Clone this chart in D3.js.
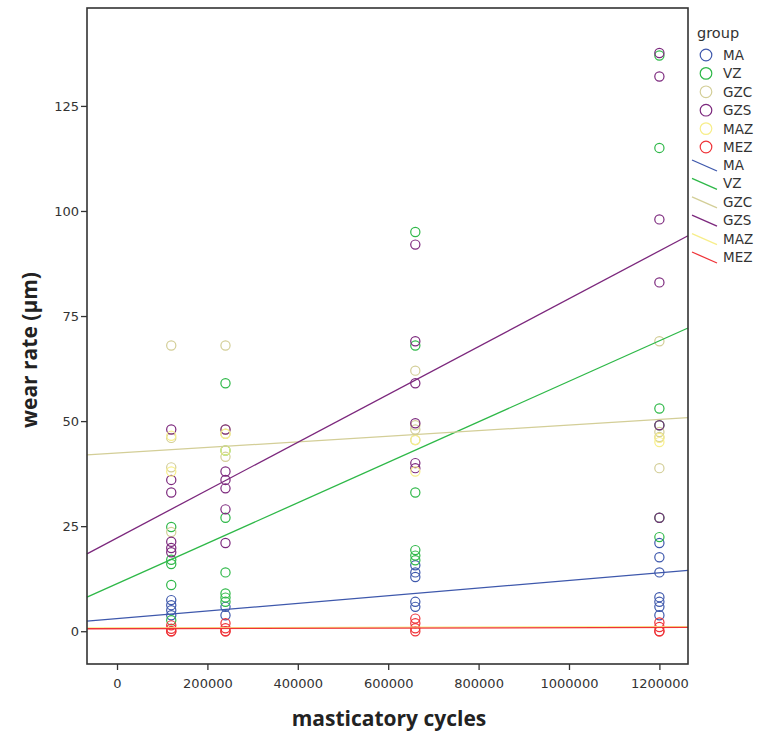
<!DOCTYPE html>
<html><head><meta charset="utf-8">
<script src="https://cdn.jsdelivr.net/npm/d3@7"></script>
<style>
html,body{margin:0;padding:0;background:#fff;}
svg{display:block;}
</style></head>
<body>
<script>
// ---- data ----
const groups = ["MA", "VZ", "GZC", "GZS", "MAZ", "MEZ"];
const groupColors = ["#3E58AC", "#2EB848", "#D3CE97", "#7C287D", "#F7EE8A", "#EF3338"];
const cycles = [120000, 240000, 660000, 1200000];
const xTicks = [0, 200000, 400000, 600000, 800000, 1000000, 1200000];
const yTicks = [0, 25, 50, 75, 100, 125];

// wear values per group, one list per cycle count
const wearMA  = [[7.4, 6.2, 5, 3.8], [5.8, 3.8], [15.7, 14, 12.9, 7, 5.8], [21, 17.6, 14, 8.1, 7, 5.8, 3.8]];
const wearVZ  = [[24.8, 17, 16, 11, 2.6], [59, 43, 27, 14, 9, 8, 7], [95, 68, 33, 19.3, 18, 16.9], [137, 115, 53, 49, 27, 22.4]];
const wearGZC = [[68, 46, 39, 23.6], [68, 48, 41.5, 47], [62, 49, 48, 45.5], [69, 47.4, 46.2, 38.8]];
const wearGZS = [[48, 36, 33, 21.3, 19.8, 18.8], [48, 38, 36, 34, 29, 21], [92, 69, 59, 49.5, 40, 38.8], [137.6, 132, 98, 83, 49, 27]];
const wearMAZ = [[46.5, 38], [47, 43], [45.5, 38], [46, 45]];
const wearMEZ = [[1.4, 0.6, 0, 0], [1.9, 0.7, 0, 0], [3, 1.9, 0.7, 0], [2.1, 1, 0, 0]];
const wearByGroup = [wearMA, wearVZ, wearGZC, wearGZS, wearMAZ, wearMEZ];

// fitted line values at 0 cycles and at 1,200,000 cycles
const fitAtZero = [3.0, 11.3, 42.4, 22.2, 0.8, 0.6];
const fitAtMax  = [13.9, 69.1, 50.4, 90.5, 1.1, 0.9];

// ---- layout ----
const W = 763, H = 740;
const plot = {left: 87, top: 8, right: 688, bottom: 664};

const svg = d3.select("body").append("svg").attr("width", W).attr("height", H);

const x = d3.scaleLinear().domain([-66400, 1263300]).range([plot.left, plot.right]);
const y = d3.scaleLinear().domain([-7.8, 148.3]).range([plot.bottom, plot.top]);

const font = "'DejaVu Sans', sans-serif";

// points
const pts = [];
wearByGroup.forEach((g, gi) => g.forEach((vals, ci) => vals.forEach(v => pts.push({gi, cx: cycles[ci], v}))));
svg.append("g").selectAll("circle").data(pts).join("circle")
  .attr("cx", d => x(d.cx)).attr("cy", d => y(d.v)).attr("r", 4.6)
  .attr("fill", "none").attr("stroke", d => groupColors[d.gi]).attr("stroke-width", 1.2);

// fit lines
const x0 = x.domain()[0], x1 = x.domain()[1];
const fitVal = (gi, xv) => fitAtZero[gi] + (fitAtMax[gi] - fitAtZero[gi]) * xv / 1200000;
svg.append("g").selectAll("line").data(groups).join("line")
  .attr("x1", x(x0)).attr("x2", x(x1))
  .attr("y1", (d, i) => y(fitVal(i, x0))).attr("y2", (d, i) => y(fitVal(i, x1)))
  .attr("stroke", (d, i) => groupColors[i]).attr("stroke-width", 1.3);

// frame
svg.append("rect").attr("x", plot.left).attr("y", plot.top)
  .attr("width", plot.right - plot.left).attr("height", plot.bottom - plot.top)
  .attr("fill", "none").attr("stroke", "#333").attr("stroke-width", 1.6);

// axes
const xAxis = svg.append("g").attr("transform", `translate(0,${plot.bottom})`)
  .call(d3.axisBottom(x).tickValues(xTicks).tickFormat(d3.format("d")).tickSizeOuter(0).tickSize(6).tickPadding(9));
const yAxis = svg.append("g").attr("transform", `translate(${plot.left},0)`)
  .call(d3.axisLeft(y).tickValues(yTicks).tickFormat(d3.format("d")).tickSizeOuter(0).tickSize(6).tickPadding(2));
[xAxis, yAxis].forEach(a => {
  a.select(".domain").remove();
  a.selectAll("line").attr("stroke", "#333").attr("stroke-width", 1.3);
  a.selectAll("text").attr("font-family", font).attr("font-size", 13).attr("fill", "#333");
});

// axis titles
svg.append("text").attr("x", 389).attr("y", 726)
  .attr("text-anchor", "middle").attr("font-family", "'Open Sans', sans-serif")
  .attr("font-weight", "bold").attr("font-size", 21).attr("fill", "#222").text("masticatory cycles");
svg.append("text").attr("transform", "translate(37,350) rotate(-90)")
  .attr("text-anchor", "middle").attr("font-family", "'Open Sans', sans-serif")
  .attr("font-weight", "bold").attr("font-size", 21).attr("fill", "#222").text("wear rate (µm)");

// legend
const lg = svg.append("g");
lg.append("text").attr("x", 697).attr("y", 38).attr("font-family", font).attr("font-size", 14.5)
  .attr("fill", "#333").text("group");
groups.forEach((g, i) => {
  const cy = 55 + i * 18.4;
  lg.append("circle").attr("cx", 706).attr("cy", cy).attr("r", 5.8)
    .attr("fill", "none").attr("stroke", groupColors[i]).attr("stroke-width", 1.2);
  lg.append("text").attr("x", 723).attr("y", cy + 5).attr("font-family", font).attr("font-size", 13.5)
    .attr("fill", "#333").text(g);
});
groups.forEach((g, i) => {
  const cy = 165 + i * 18.4;
  lg.append("line").attr("x1", 692).attr("y1", cy - 5).attr("x2", 717).attr("y2", cy + 6)
    .attr("stroke", groupColors[i]).attr("stroke-width", 1.3);
  lg.append("text").attr("x", 723).attr("y", cy + 5).attr("font-family", font).attr("font-size", 13.5)
    .attr("fill", "#333").text(g);
});
</script>
</body></html>
